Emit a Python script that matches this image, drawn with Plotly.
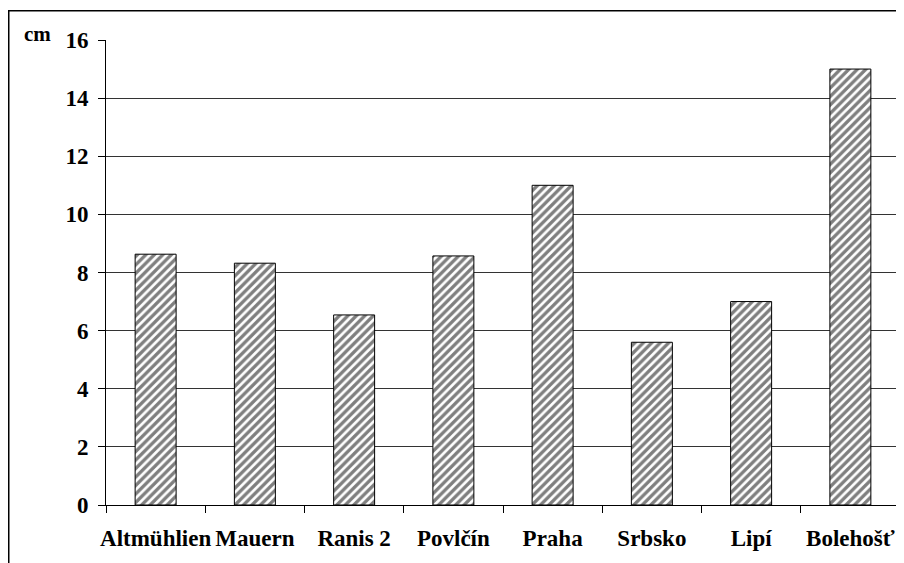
import plotly.graph_objects as go

categories = ["Altmühlien", "Mauern", "Ranis 2", "Povlčín", "Praha", "Srbsko", "Lipí", "Bolehošť"]
values = [8.63, 8.32, 6.54, 8.57, 11.0, 5.6, 7.0, 15.0]
y_ticks = [0, 2, 4, 6, 8, 10, 12, 14, 16]

FONT = "Times New Roman"

# figure sits at an 8px page offset; plot area 794x465
L, T, PW, PH = 98, 32, 794, 465

fig = go.Figure()
fig.add_trace(go.Bar(
    x=categories, y=values,
    marker=dict(
        color="white",
        line=dict(color="black", width=1),
        pattern=dict(shape="/", fgcolor="black", bgcolor="white", size=6, solidity=0.55, fillmode="overlay"),
    ),
    hoverinfo="x+y",
))

fig.update_layout(
    width=896, height=555,
    margin=dict(l=L, r=896 - L - PW, t=T, b=555 - T - PH, autoexpand=False),
    paper_bgcolor="white", plot_bgcolor="white",
    bargap=0.587,
    showlegend=False,
    font=dict(family=FONT, color="black"),
    xaxis=dict(
        type="category",
        automargin=False,
        tickangle=0,
        tickvals=categories,
        ticktext=["<b>%s</b>" % c for c in categories],
        showline=True, linecolor="black", linewidth=1,
        ticks="outside", tickson="boundaries", ticklen=7, tickcolor="black",
        ticklabelstandoff=12,
        tickfont=dict(family=FONT, size=23, color="black"),
        showgrid=False,
    ),
    yaxis=dict(
        range=[0, 16],
        automargin=False,
        tickvals=y_ticks,
        ticktext=["<b>%d</b>" % v for v in y_ticks],
        showline=True, linecolor="black", linewidth=1, mirror=True,
        ticks="outside", ticklen=7, tickcolor="black",
        ticklabelstandoff=5,
        tickfont=dict(family=FONT, size=23, color="black"),
        showgrid=True, gridcolor="#333333", gridwidth=1,
        zeroline=False,
    ),
    annotations=[dict(
        text="<b>cm</b>", xref="paper", yref="paper",
        x=(14 - L) / PW, y=(T + PH - 26) / PH,
        xanchor="left", yanchor="middle", showarrow=False,
        font=dict(family=FONT, size=21, color="black"),
    )],
    shapes=[dict(
        type="rect", xref="paper", yref="paper",
        x0=(0.75 - L) / PW, x1=(910 - L) / PW,
        y0=(T + PH - 580) / PH, y1=(T + PH - 2.75) / PH,
        line=dict(color="black", width=1.5), fillcolor="rgba(0,0,0,0)",
        layer="below",
    )],
)

fig.write_html("out.html")
